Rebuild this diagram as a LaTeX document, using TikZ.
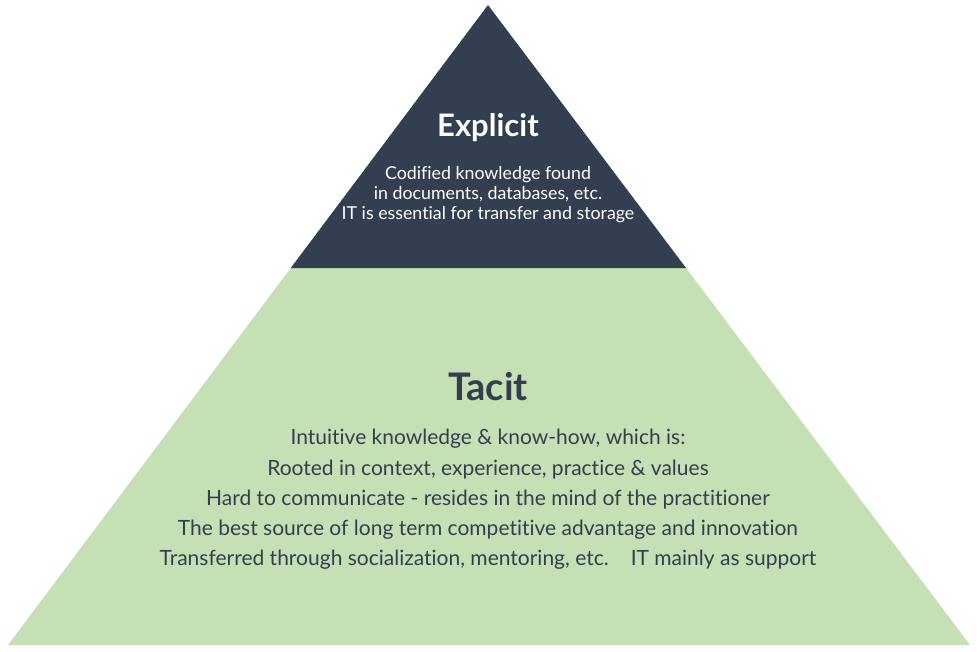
\documentclass[tikz,border=0pt]{standalone}
\usepackage{fontspec}
\setmainfont{Lato}[Ligatures=NoCommon]
\usetikzlibrary{positioning,calc}
\definecolor{explicitblue}{HTML}{333F50}
\definecolor{tacitgreen}{HTML}{C5E0B4}
\tikzset{
  layertitle/.style={font=\fontsize{31}{31}\selectfont\bfseries},
  layertext/.style={align=center},
}
\begin{document}
\begin{tikzpicture}[x=1pt,y=1pt]
  \useasboundingbox (0,0) rectangle (977,-651);
  \coordinate (apex) at (488,-5);
  \coordinate (left) at (8,-645);
  \coordinate (right) at (970,-645);
  \coordinate (cutl) at ($(apex)!0.411!(left)$);
  \coordinate (cutr) at ($(apex)!0.411!(right)$);
  \fill[tacitgreen] (cutl) -- (cutr) -- (right) -- (left) -- cycle;
  \fill[explicitblue] (apex) -- (cutr) -- (cutl) -- cycle;
  \node[layertitle,text=white] (explicit) at (488,-128) {Explicit};
  \node[layertext,text=white,font=\fontsize{17.8}{20}\selectfont] (explicittext) at (488,-195)
    {Codified knowledge found\\in documents, databases, etc.\\IT is essential for transfer and storage};
  \node[layertitle,text=explicitblue,font=\fontsize{38}{38}\selectfont\bfseries] (tacit) at (488,-387) {Tacit};
  \node[layertext,text=explicitblue,font=\fontsize{21}{30.3}\selectfont] (tacittext) at (488,-499.5)
    {Intuitive knowledge \& know-how, which is:\\
     Rooted in context, experience, practice \& values\\
     Hard to communicate - resides in the mind of the practitioner\\
     The best source of long term competitive advantage and innovation\\
     Transferred through socialization, mentoring, etc.\hspace{22pt}IT mainly as support};
\end{tikzpicture}
\end{document}
